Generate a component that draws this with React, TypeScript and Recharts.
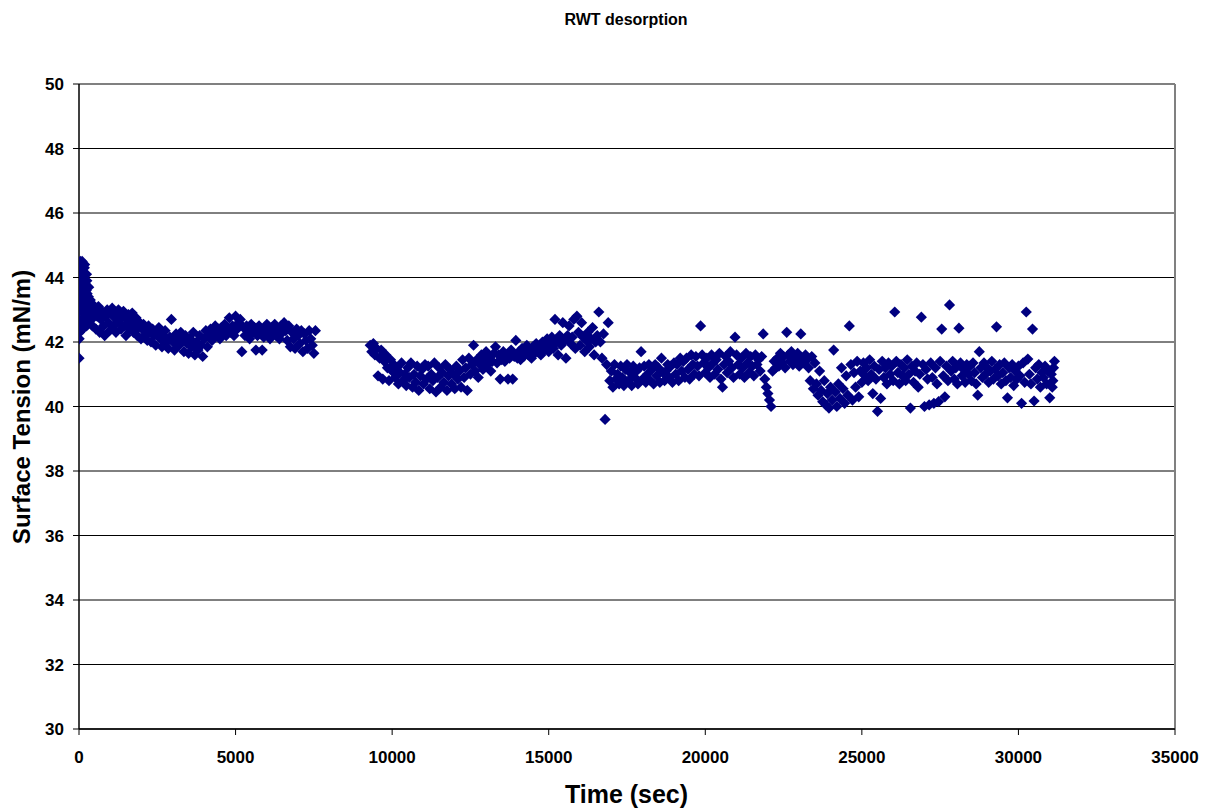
import React from 'react';
import { ScatterChart, Scatter, XAxis, YAxis, CartesianGrid, ReferenceLine } from 'recharts';

const chartTitle = 'RWT desorption';
const xTitle = 'Time (sec)';
const yTitle = 'Surface Tension (mN/m)';

const xTicks = [0, 5000, 10000, 15000, 20000, 25000, 30000, 35000];
const yTicks = [30, 32, 34, 36, 38, 40, 42, 44, 46, 48, 50];

// [time (sec), surface tension (mN/m)]
const initialSpike: [number, number][] = [
  [0, 41.5], [5, 42.1], [10, 42.4], [15, 42.7], [20, 43.0], [25, 43.3], [30, 43.6], [35, 44.0],
  [40, 44.5], [50, 44.4], [60, 43.9], [70, 43.4], [80, 43.8], [90, 44.2], [100, 44.5],
  [110, 44.1], [120, 43.7], [130, 43.2], [140, 42.9], [150, 43.5], [160, 44.0], [170, 44.3],
  [180, 44.4], [190, 43.8], [200, 43.3], [210, 42.8], [220, 43.1], [230, 43.6], [240, 44.1],
  [250, 43.9], [260, 43.5], [270, 43.0], [280, 42.6], [290, 42.9], [300, 43.4], [310, 43.7],
  [320, 43.2], [340, 42.8], [360, 43.3], [380, 43.0], [400, 42.7], [20, 42.3], [60, 42.5],
  [120, 42.4], [180, 42.6], [240, 42.5],
];

const firstPlateau: [number, number][] = [
  [400, 43.2], [430, 42.5], [460, 42.9], [500, 43.0], [540, 42.4], [580, 42.8], [620, 43.1],
  [660, 42.3], [700, 42.7], [740, 42.95], [780, 42.5], [820, 42.2], [860, 42.8], [900, 43.0],
  [940, 42.6], [980, 42.35], [1020, 42.9], [1060, 43.05], [1100, 42.5], [1140, 42.75],
  [1180, 42.3], [1220, 42.9], [1260, 43.0], [1300, 42.6], [1340, 42.4], [1380, 42.8],
  [1420, 42.95], [1460, 42.5], [1500, 42.2], [1540, 42.7], [1580, 42.85], [1620, 42.4],
  [1660, 42.6], [1700, 42.9], [1740, 42.3], [1780, 42.55], [1820, 42.75], [1860, 42.2],
  [1900, 42.45], [1940, 42.6], [1980, 42.1], [2020, 42.4], [2060, 42.55], [2100, 42.2],
  [2140, 42.35], [2180, 42.05], [2220, 42.5], [2260, 42.3], [2300, 42.0], [2350, 42.4],
  [2400, 42.2], [2450, 41.9], [2500, 42.3], [2550, 42.45], [2600, 42.1], [2650, 41.85],
  [2700, 42.2], [2750, 42.35], [2800, 42.0], [2850, 41.8], [2900, 42.15], [2950, 42.7],
  [3000, 42.0], [3050, 41.75], [3100, 42.25], [3150, 42.1], [3200, 41.9], [3250, 42.3],
  [3300, 42.05], [3350, 41.7], [3400, 42.2], [3450, 41.95], [3500, 41.65], [3550, 42.1],
  [3600, 41.85], [3650, 42.3], [3700, 41.6], [3750, 42.0], [3800, 41.75], [3850, 42.2],
  [3900, 41.9], [3950, 41.55], [4000, 42.1], [4050, 42.35], [4100, 41.85], [4150, 42.2],
  [4200, 42.4], [4250, 42.05], [4300, 42.3], [4350, 42.5], [4400, 42.2], [4450, 42.4],
  [4500, 42.1], [4550, 42.45], [4600, 42.3], [4650, 42.55], [4700, 42.2], [4750, 42.4],
  [4800, 42.75], [4850, 42.3], [4900, 42.5], [4950, 42.2], [5000, 42.8], [5050, 42.4],
  [5100, 42.6], [5150, 42.7], [5200, 41.7], [5250, 42.45], [5300, 42.2], [5350, 42.5],
  [5400, 42.35], [5450, 42.1], [5500, 42.55], [5550, 42.3], [5600, 42.45], [5650, 41.75],
  [5700, 42.2], [5750, 42.5], [5800, 42.35], [5850, 41.75], [5900, 42.15], [5950, 42.4],
  [6000, 42.55], [6050, 42.3], [6100, 42.1], [6150, 42.45], [6200, 42.3], [6250, 42.55],
  [6300, 42.2], [6350, 42.4], [6400, 42.1], [6450, 42.5], [6500, 42.3], [6550, 42.6],
  [6600, 42.35], [6650, 42.05], [6700, 42.5], [6750, 41.85], [6800, 42.3], [6850, 42.1],
  [6900, 41.8], [6950, 42.4], [7000, 42.2], [7050, 41.95], [7100, 42.35], [7150, 41.7],
  [7200, 42.25], [7250, 42.05], [7300, 41.8], [7350, 42.35], [7400, 42.1], [7450, 41.9],
  [7500, 41.65], [7550, 42.35],
];

const dipAndRise: [number, number][] = [
  [9300, 41.9], [9350, 41.7], [9400, 41.95], [9450, 41.6], [9500, 41.8], [9550, 40.95],
  [9600, 41.5], [9650, 41.75], [9700, 40.85], [9750, 41.4], [9800, 41.6], [9850, 41.2],
  [9900, 40.8], [9950, 41.45], [10000, 41.1], [10050, 41.3], [10100, 40.9], [10150, 41.2],
  [10200, 40.7], [10250, 41.05], [10300, 41.35], [10350, 40.8], [10400, 41.0], [10450, 40.65],
  [10500, 41.2], [10550, 40.9], [10600, 41.35], [10650, 40.6], [10700, 41.0], [10750, 40.75],
  [10800, 41.25], [10850, 40.5], [10900, 40.95], [10950, 41.15], [11000, 40.7], [11050, 41.3],
  [11100, 40.85], [11150, 41.25], [11200, 40.55], [11250, 41.0], [11300, 40.8], [11350, 41.35],
  [11400, 40.45], [11450, 40.9], [11500, 41.2], [11550, 40.6], [11600, 41.05], [11650, 40.75],
  [11700, 41.3], [11750, 40.5], [11800, 40.95], [11850, 41.15], [11900, 40.7], [11950, 41.0],
  [12000, 40.55], [12050, 41.25], [12100, 40.85], [12150, 41.1], [12200, 40.6], [12250, 41.45],
  [12300, 40.9], [12350, 41.2], [12400, 40.5], [12450, 41.5], [12500, 41.0], [12550, 41.3],
  [12600, 41.9], [12650, 41.1], [12700, 41.45], [12750, 40.9], [12800, 41.3], [12850, 41.6],
  [12900, 41.15], [12950, 41.45], [13000, 41.7], [13050, 41.3], [13100, 41.55], [13150, 41.1],
  [13200, 41.4], [13250, 41.65], [13300, 41.85], [13350, 41.35], [13400, 41.6], [13450, 40.85],
  [13500, 41.45], [13550, 41.7], [13600, 41.4], [13650, 41.6], [13700, 40.85], [13750, 41.5],
  [13800, 41.75], [13850, 40.85], [13900, 41.55], [13950, 42.05], [14000, 41.5], [14050, 41.7],
  [14100, 41.45], [14150, 41.8], [14200, 41.55], [14250, 41.7], [14300, 41.9], [14350, 41.6],
  [14400, 41.75], [14450, 41.5], [14500, 41.85], [14550, 41.65], [14600, 41.95], [14650, 41.7],
  [14700, 41.85], [14750, 41.6], [14800, 42.0], [14850, 41.75], [14900, 41.9], [14950, 42.1],
  [15000, 41.7], [15050, 41.95], [15100, 42.15], [15150, 41.8], [15200, 42.7], [15250, 42.0],
  [15300, 41.6], [15350, 42.2], [15400, 41.9], [15450, 42.6], [15500, 42.05], [15550, 41.5],
  [15600, 42.2], [15650, 42.5], [15700, 41.95], [15750, 42.15], [15800, 42.7], [15850, 41.8],
  [15900, 42.8], [15950, 42.3], [16000, 41.9], [16050, 42.6], [16100, 42.15], [16150, 41.7],
  [16200, 42.05], [16250, 42.3], [16300, 41.85], [16350, 42.1], [16400, 42.45], [16450, 41.6],
  [16500, 42.0], [16550, 42.2], [16600, 42.93], [16650, 42.0], [16700, 41.5], [16750, 42.25],
  [16800, 39.6], [16850, 41.3], [16900, 42.6], [16950, 40.8],
];

const middleBand: [number, number][] = [
  [17000, 41.1], [17050, 40.6], [17100, 41.3], [17150, 40.85], [17200, 41.0], [17250, 40.7],
  [17300, 41.25], [17350, 40.9], [17400, 40.65], [17450, 41.15], [17500, 41.3], [17550, 40.8],
  [17600, 41.05], [17650, 40.65], [17700, 41.25], [17750, 40.9], [17800, 41.1], [17850, 40.7],
  [17900, 41.2], [17950, 41.7], [18000, 40.85], [18050, 41.25], [18100, 40.75], [18150, 41.0],
  [18200, 41.3], [18250, 40.8], [18300, 41.15], [18350, 40.7], [18400, 41.3], [18450, 40.95],
  [18500, 41.2], [18550, 40.75], [18600, 41.5], [18650, 41.05], [18700, 40.8], [18750, 41.1],
  [18800, 41.3], [18850, 40.9], [18900, 41.25], [18950, 40.75], [19000, 41.35], [19050, 41.0],
  [19100, 41.3], [19150, 40.8], [19200, 41.5], [19250, 41.1], [19300, 41.4], [19350, 40.9],
  [19400, 41.5], [19450, 41.15], [19500, 40.85], [19550, 41.6], [19600, 41.3], [19650, 41.0],
  [19700, 41.55], [19750, 41.25], [19800, 40.95], [19850, 42.5], [19900, 41.6], [19950, 41.35],
  [20000, 41.05], [20050, 41.5], [20100, 41.2], [20150, 40.9], [20200, 41.6], [20250, 41.35],
  [20300, 41.0], [20350, 41.45], [20400, 41.15], [20450, 41.65], [20500, 40.85], [20550, 40.6],
  [20600, 41.3], [20650, 41.55], [20700, 41.05], [20750, 41.4], [20800, 41.7], [20850, 41.2],
  [20900, 40.9], [20950, 42.15], [21000, 41.6], [21050, 41.3], [21100, 41.0], [21150, 41.5],
  [21200, 41.2], [21250, 40.9], [21300, 41.65], [21350, 41.35], [21400, 41.05], [21450, 41.55],
  [21500, 41.25], [21550, 40.95], [21600, 41.6], [21650, 41.3], [21700, 41.45], [21750, 41.1],
  [21800, 41.55], [21850, 42.25], [21900, 40.85], [21950, 40.6], [22000, 40.4], [22050, 40.2],
  [22100, 40.0], [22150, 41.1], [22200, 41.4], [22250, 41.2], [22300, 41.5], [22350, 41.25],
  [22400, 41.65], [22450, 41.35], [22500, 41.55], [22550, 41.2], [22600, 42.3], [22650, 41.6],
  [22700, 41.4], [22750, 41.7], [22800, 41.3], [22850, 41.55], [22900, 41.4], [22950, 41.65],
  [23000, 41.25], [23050, 42.25], [23100, 41.5], [23150, 41.35], [23200, 41.6], [23250, 41.45],
  [23300, 41.2], [23350, 40.8], [23400, 41.55], [23450, 40.55], [23500, 41.35], [23550, 40.7],
  [23600, 40.35], [23650, 41.1], [23700, 40.5], [23750, 40.15], [23800, 40.8], [23850, 40.05],
  [23900, 40.4], [23950, 39.95], [24000, 40.6], [24050, 40.2], [24100, 41.75], [24150, 40.45],
  [24200, 40.0], [24250, 40.7], [24300, 40.25], [24350, 41.2], [24400, 40.55], [24450, 40.1],
  [24500, 40.95], [24550, 40.35], [24600, 42.5], [24650, 41.3], [24700, 40.2], [24750, 41.05],
  [24800, 40.6], [24850, 41.4], [24900, 40.3],
];

const lateBand: [number, number][] = [
  [24950, 41.1], [25000, 40.75], [25050, 41.35], [25100, 40.95], [25150, 41.2], [25200, 40.8],
  [25250, 41.45], [25300, 41.0], [25350, 40.4], [25400, 41.25], [25450, 40.85], [25500, 39.85],
  [25550, 41.15], [25600, 40.25], [25650, 41.4], [25700, 40.9], [25750, 41.2], [25800, 40.7],
  [25850, 41.35], [25900, 41.0], [25950, 41.25], [26000, 40.8], [26050, 42.93], [26100, 41.4],
  [26150, 41.05], [26200, 40.7], [26250, 41.3], [26300, 40.95], [26350, 41.2], [26400, 40.8],
  [26450, 41.45], [26500, 41.0], [26550, 39.95], [26600, 41.25], [26650, 40.75], [26700, 41.1],
  [26750, 41.35], [26800, 40.6], [26850, 41.0], [26900, 42.77], [26950, 41.3], [27000, 40.0],
  [27050, 41.15], [27100, 40.85], [27150, 40.05], [27200, 41.35], [27250, 40.9], [27300, 40.1],
  [27350, 41.2], [27400, 40.7], [27450, 40.15], [27500, 41.4], [27550, 42.4], [27600, 40.95],
  [27650, 40.3], [27700, 41.25], [27750, 40.8], [27800, 43.15], [27850, 41.1], [27900, 41.4],
  [27950, 40.85], [28000, 41.2], [28050, 40.7], [28100, 42.43], [28150, 41.35], [28200, 40.95],
  [28250, 41.15], [28300, 40.75], [28350, 41.3], [28400, 41.0], [28450, 41.25], [28500, 40.8],
  [28550, 41.35], [28600, 41.05], [28650, 40.7], [28700, 40.35], [28750, 41.7], [28800, 41.2],
  [28850, 40.9], [28900, 41.35], [28950, 41.0], [29000, 41.2], [29050, 40.75], [29100, 41.1],
  [29150, 41.4], [29200, 40.85], [29250, 41.15], [29300, 42.47], [29350, 40.95], [29400, 41.3],
  [29450, 40.7], [29500, 41.05], [29550, 41.35], [29600, 40.8], [29650, 40.27], [29700, 41.2],
  [29750, 40.9], [29800, 41.3], [29850, 40.65], [29900, 41.1], [29950, 40.85], [30000, 41.25],
  [30050, 40.95], [30100, 40.1], [30150, 41.35], [30200, 40.75], [30250, 42.93], [30300, 41.47],
  [30350, 41.0], [30400, 40.7], [30450, 42.4], [30500, 40.17], [30550, 41.2], [30600, 40.85],
  [30650, 41.3], [30700, 40.6], [30750, 41.05], [30800, 40.9], [30850, 41.25], [30900, 40.7],
  [30950, 41.1], [31000, 40.27], [31050, 41.0], [31080, 40.6], [31100, 40.8], [31120, 41.2],
  [31150, 41.4],
];

const tensionData = [...initialSpike, ...firstPlateau, ...dipAndRise, ...middleBand, ...lateBand].map(
  ([t, v]) => ({ t, v })
);

const MARKER_COLOR = '#000080';

const Diamond = (props: any) => {
  const { cx, cy } = props;
  if (cx == null || cy == null) return null;
  const r = 5.6;
  return (
    <path
      d={`M${cx},${cy - r}L${cx + r},${cy}L${cx},${cy + r}L${cx - r},${cy}Z`}
      fill={MARKER_COLOR}
      stroke="none"
    />
  );
};

const FONT = '"Liberation Sans", Arial, Helvetica, sans-serif';
const tickStyle = { fill: '#000', fontSize: 17, fontWeight: 'bold' as const, fontFamily: FONT };

export default function App() {
  return (
    <div style={{ position: 'relative', width: 1200, height: 800, fontFamily: FONT }}>
      <ScatterChart width={1200} height={800} margin={{ top: 76, right: 33, left: 0, bottom: 0 }}>
        <CartesianGrid horizontal vertical={false} stroke="#000" strokeWidth={1} />
        <XAxis
          type="number"
          dataKey="t"
          domain={[0, 35000]}
          ticks={xTicks}
          interval={0}
          height={79}
          tickSize={6}
          tickMargin={16}
          axisLine={{ stroke: '#000', strokeWidth: 1.5 }}
          tickLine={{ stroke: '#000' }}
          tick={tickStyle}
          allowDataOverflow
        />
        <YAxis
          type="number"
          dataKey="v"
          domain={[30, 50]}
          ticks={yTicks}
          interval={0}
          width={71}
          tickSize={6}
          tickMargin={9}
          axisLine={{ stroke: '#000', strokeWidth: 1.5 }}
          tickLine={{ stroke: '#000' }}
          tick={tickStyle}
          allowDataOverflow
        />
        <ReferenceLine y={50} stroke="#808080" strokeWidth={2} />
        <ReferenceLine x={35000} stroke="#808080" strokeWidth={2} />
        <Scatter data={tensionData} shape={Diamond} isAnimationActive={false} />
      </ScatterChart>
      <svg
        width={1200}
        height={800}
        style={{ position: 'absolute', left: 0, top: 0, pointerEvents: 'none', overflow: 'visible' }}
      >
        <text x={618} y={17} textAnchor="middle" fontSize={16} fontWeight="bold" fontFamily={FONT} fill="#000">
          {chartTitle}
        </text>
        <text x={618.5} y={795} textAnchor="middle" fontSize={25} fontWeight="bold" fontFamily={FONT} fill="#000">
          {xTitle}
        </text>
        <text
          x={0}
          y={0}
          transform="translate(22, 399) rotate(-90)"
          textAnchor="middle"
          fontSize={24}
          fontWeight="bold"
          fontFamily={FONT}
          fill="#000"
        >
          {yTitle}
        </text>
      </svg>
    </div>
  );
}
